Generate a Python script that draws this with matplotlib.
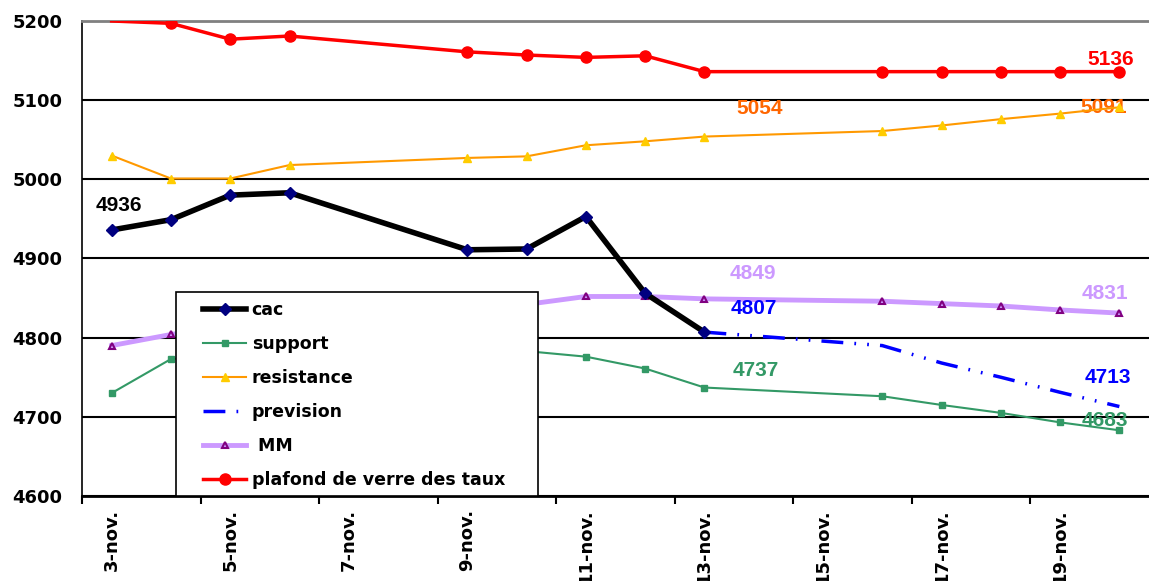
import matplotlib.pyplot as plt
from matplotlib.patches import Rectangle

plt.rcParams['font.family'] = ['DejaVu Sans']
plt.rcParams['font.weight'] = 'bold'

# jours de novembre (jours ouvrés)
jours = [3, 4, 5, 6, 9, 10, 11, 12, 13, 16, 17, 18, 19, 20]
cac = [4936, 4949, 4980, 4983, 4911, 4912, 4953, 4856, 4807]
support = [4730, 4773, 4778, 4782, 4784, 4783, 4776, 4761, 4737, 4726, 4715, 4705, 4693, 4683]
resistance = [5030, 5001, 5001, 5018, 5027, 5029, 5043, 5048, 5054, 5061, 5068, 5076, 5083, 5091]
jours_prev = [13, 16, 17, 18, 19, 20]
prevision = [4807, 4790, 4768, 4750, 4731, 4713]
mm = [4790, 4804, 4815, 4825, 4835, 4842, 4852, 4852, 4849, 4846, 4843, 4840, 4835, 4831]
plafond = [5200, 5197, 5177, 5181, 5161, 5157, 5154, 5156, 5136, 5136, 5136, 5136, 5136, 5136]

labels_x = [3, 5, 7, 9, 11, 13, 15, 17, 19]

fig = plt.figure(figsize=(11.49, 5.81), dpi=100)
ax = fig.add_axes([0.0714, 0.1463, 0.9286, 0.8176])

ax.plot(jours, plafond, color='#FF0000', lw=2.5, marker='o', ms=8, markevery=list(range(1, len(jours))),
        label='plafond de verre des taux', zorder=4)
ax.plot(jours, resistance, color='#FF9900', lw=1.5, marker='^', ms=6, mfc='#FFCC00', mec='#FFCC00', label='resistance', zorder=4)
ax.plot(jours, mm, color='#CC99FF', lw=3.5, marker='^', ms=5, mfc='none', mec='#800080', mew=1.5, label=' MM', zorder=3)
ax.plot(jours, support, color='#339966', lw=1.5, marker='s', ms=5, label='support', zorder=4)
ax.plot(jours_prev, prevision, color='#0000FF', lw=2.5, ls=(0, (6.3, 3.2, 0.5, 3.2, 0.5, 3.2)), label='prevision', zorder=5)
ax.plot(jours[:len(cac)], cac, color='black', lw=4, marker='D', ms=6, mfc='#000080', mec='#000080', label='cac', zorder=6)

# étiquettes de valeurs
txt = dict(fontsize=15, fontweight='bold', ha='center', va='center', family='Liberation Sans')
ax.text(3.12, 4967, '4936', color='black', **txt)
ax.text(13.94, 5090, '5054', color='#FF6600', **txt)
ax.text(19.85, 5151, '5136', color='#FF0000', **txt)
ax.text(19.73, 5091, '5091', color='#FF6600', **txt)
ax.text(13.81, 4881, '4849', color='#CC99FF', **txt)
ax.text(13.83, 4837, '4807', color='#0000FF', **txt)
ax.text(13.86, 4759, '4737', color='#339966', **txt)
ax.text(19.75, 4856, '4831', color='#CC99FF', **txt)
ax.text(19.8, 4750, '4713', color='#0000FF', **txt)
ax.text(19.76, 4695, '4683', color='#339966', **txt)

ax.set_xlim(2.5, 20.5)
ax.set_ylim(4600, 5200)
ax.set_yticks([4600, 4700, 4800, 4900, 5000, 5100, 5200])
ax.tick_params(axis='y', labelsize=13, length=0, pad=14)
for t in ax.get_yticklabels():
    t.set_fontweight('bold')

ax.set_xticks([x - 0.5 for x in labels_x])
ax.set_xticklabels([])
ax.set_xticks(labels_x, minor=True)
ax.set_xticklabels([f'{d}-nov.' for d in labels_x], minor=True, rotation=90, fontsize=13, fontweight='bold')
ax.tick_params(axis='x', which='major', length=6, width=1.5, direction='out')
ax.tick_params(axis='x', which='minor', length=0, pad=9)

ax.grid(axis='y', color='black', lw=1.5)
ax.set_axisbelow(True)
ax.spines['right'].set_visible(False)
ax.spines['top'].set_color('#808080')
ax.spines['top'].set_linewidth(2)
ax.spines['left'].set_linewidth(1.2)
ax.spines['bottom'].set_linewidth(2)

# cadre de la légende
ax.add_patch(Rectangle((0.0881, 0.0), 0.3393, 0.4295, transform=ax.transAxes,
                       facecolor='white', edgecolor='black', lw=1.2, zorder=8, clip_on=False))

handles, labs = ax.get_legend_handles_labels()
ordre = ['cac', 'support', 'resistance', 'prevision', ' MM', 'plafond de verre des taux']
h = [handles[labs.index(o)] for o in ordre]
leg = ax.legend(h, ordre, loc='upper left', bbox_to_anchor=(0.1134, 0.4096), fontsize=12.5,
                frameon=False, borderpad=0, labelspacing=0.92, handlelength=2.5,
                handletextpad=0.3, borderaxespad=0)
leg.set_zorder(10)
for t in leg.get_texts():
    t.set_fontweight('bold')

fig.savefig('out.png', dpi=100)
